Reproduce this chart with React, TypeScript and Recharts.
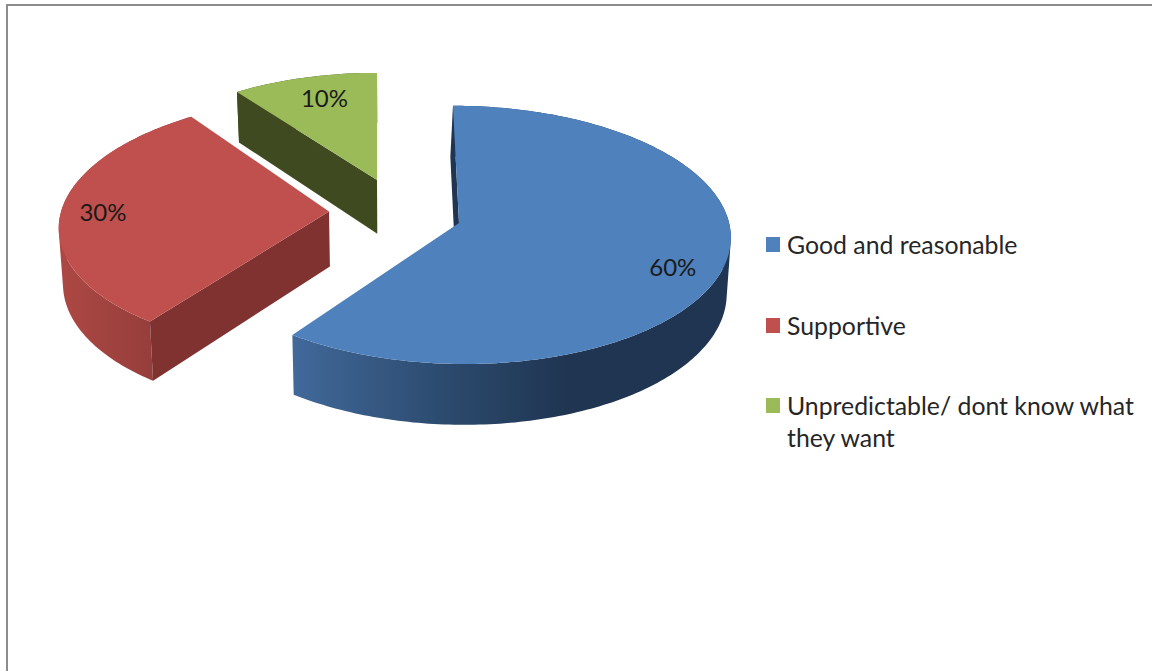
import React from "react";
import { PieChart, Pie, Legend } from "recharts";

const categories = ["Good and reasonable", "Supportive", "Unpredictable/ dont know what they want"];
const shares = [60, 30, 10];
const topColors = ["#4f81bd", "#c0504d", "#9bbb59"];

// Look of each exploded slice (offset from the pie centre, 3D projection, wall paint)
const sliceLook = [
  { dx: 0, dy: 0, scale: 0.993, ratio: 0.474, shear: 6, wallShift: -2, edge: "#1f3551", wall: [[0, "#41699a"], [0.55, "#2c4a6e"], [1, "#1f3551"]], x1: 292, x2: 570, labelFrac: 0.8, nudgeX: 2, nudgeY: 11 },
  { dx: -130, dy: -11.5, scale: 0.985, ratio: 0.47, shear: -11, wallShift: 0, edge: "#7f3230", wall: [[0, "#ad4844"], [1, "#953e3b"]], x1: 60, x2: 155, labelFrac: 0.84, nudgeX: -1, nudgeY: 0 },
  { dx: -82, dy: -43, scale: 0.941, ratio: 0.457, shear: 0, wallShift: 0, edge: "#3f4a20", wall: [[0, "#3f4a20"], [1, "#3f4a20"]], x1: 230, x2: 380, labelFrac: 0.72, nudgeX: 1, nudgeY: -7 },
];
const PERSPECTIVE = 0.092;
const VANISH_X = 400;

const rows = categories.map((name, i) => ({ name, value: shares[i], fill: topColors[i] }));

type Pt = { x: number; y: number };

function project(look: any, theta: number, frac: number, cx: number, cy: number, R: number): Pt {
  const a = (theta * Math.PI) / 180;
  const u = frac * Math.sin(a);
  const v = -frac * Math.cos(a);
  const persp = 1 / (1 - PERSPECTIVE * v);
  return {
    x: cx + look.dx + R * look.scale * u * persp + look.shear * v,
    y: cy + look.dy + R * look.scale * look.ratio * v * persp,
  };
}
const drop = (p: Pt, shift = 0): Pt => ({
  x: p.x + (VANISH_X - p.x) * 0.0125 + shift,
  y: p.y + 47 + 0.038 * p.y,
});
const toPath = (pts: Pt[]) =>
  "M" + pts.map((p) => `${p.x.toFixed(2)},${p.y.toFixed(2)}`).join("L") + "Z";

// The curved wall as quads that all wind the same way, so that its fold stays filled
function wallPath(arc: Pt[]) {
  let d = "";
  for (let i = 0; i < arc.length - 1; i++) {
    const q = [arc[i], arc[i + 1], drop(arc[i + 1]), drop(arc[i])];
    let area = 0;
    q.forEach((p, k) => {
      const n = q[(k + 1) % 4];
      area += p.x * n.y - n.x * p.y;
    });
    d += toPath(area < 0 ? q.slice().reverse() : q);
  }
  return d;
}

function Slice3D(props: any) {
  const { cx, cy, outerRadius: R, startAngle, endAngle, name, fill } = props;
  const idx = categories.indexOf(name);
  const look = sliceLook[idx];
  const t0 = 90 - startAngle;
  const t1 = 90 - endAngle;
  const arc: Pt[] = [];
  const steps = Math.max(8, Math.ceil(t1 - t0));
  for (let i = 0; i <= steps; i++) arc.push(project(look, t0 + ((t1 - t0) * i) / steps, 1, cx, cy, R));
  const apex = project(look, t0, 0, cx, cy, R);
  const gid = `wall-${idx}`;
  const showStart = Math.sin((t0 * Math.PI) / 180) < 0.001;
  const showEnd = Math.sin((t1 * Math.PI) / 180) > 0.001;
  return (
    <g>
      <defs>
        <linearGradient id={gid} gradientUnits="userSpaceOnUse" x1={look.x1} x2={look.x2} y1={0} y2={0}>
          {look.wall.map(([o, c]: any) => (
            <stop key={o} offset={o} stopColor={c} />
          ))}
        </linearGradient>
      </defs>
      <path d={wallPath(arc)} fill={`url(#${gid})`} />
      {showEnd && <path d={toPath([apex, arc[arc.length - 1], drop(arc[arc.length - 1]), drop(apex)])} fill={look.edge} />}
      {showStart && <path d={toPath([apex, arc[0], drop(arc[0], look.wallShift), drop(apex, look.wallShift)])} fill={look.edge} />}
      <path d={toPath([apex, ...arc])} fill={fill} />
    </g>
  );
}

function percentLabel(props: any) {
  const { cx, cy, outerRadius: R, midAngle, name, value } = props;
  const look = sliceLook[categories.indexOf(name)];
  const p = project(look, 90 - midAngle, look.labelFrac, cx, cy, R);
  return (
    <text x={p.x + look.nudgeX} y={p.y + look.nudgeY} textAnchor="middle" dominantBaseline="central" fontFamily="Lato" fontSize={24} fill="#1a1a1a">
      {`${value}%`}
    </text>
  );
}

function LegendRows({ payload }: any) {
  return (
    <div style={{ fontFamily: "Lato", fontSize: 24.8, lineHeight: "32px", color: "#262626" }}>
      {(payload || []).map((e: any) => (
        <div key={e.value} style={{ position: "relative", height: 80.5, paddingLeft: 21 }}>
          <span style={{ position: "absolute", left: 0, top: 8, width: 14, height: 15, background: e.color }} />
          {e.value}
        </div>
      ))}
    </div>
  );
}

export default function App() {
  return (
    <div style={{ position: "absolute", left: 0, top: 0, width: 1152, height: 671, overflow: "hidden", background: "#fff" }}>
      <div style={{ position: "absolute", left: 6, top: 4, right: -10, bottom: -10, borderTop: "2.5px solid #8c8c8c", borderLeft: "2.5px solid #8c8c8c" }} />
      <PieChart width={1152} height={671} margin={{ top: 0, right: 0, bottom: 0, left: 0 }} style={{ position: "absolute", left: 0, top: 0 }}>
        <Pie
          data={rows}
          dataKey="value"
          nameKey="name"
          cx={459}
          cy={223}
          outerRadius={272}
          startAngle={90}
          endAngle={-270}
          stroke="none"
          isAnimationActive={false}
          shape={Slice3D}
          label={percentLabel}
          labelLine={false}
        />
        <Legend content={LegendRows as any} wrapperStyle={{ position: "absolute", left: 766, top: 229, width: 372, bottom: "auto", right: "auto" }} />
      </PieChart>
    </div>
  );
}
